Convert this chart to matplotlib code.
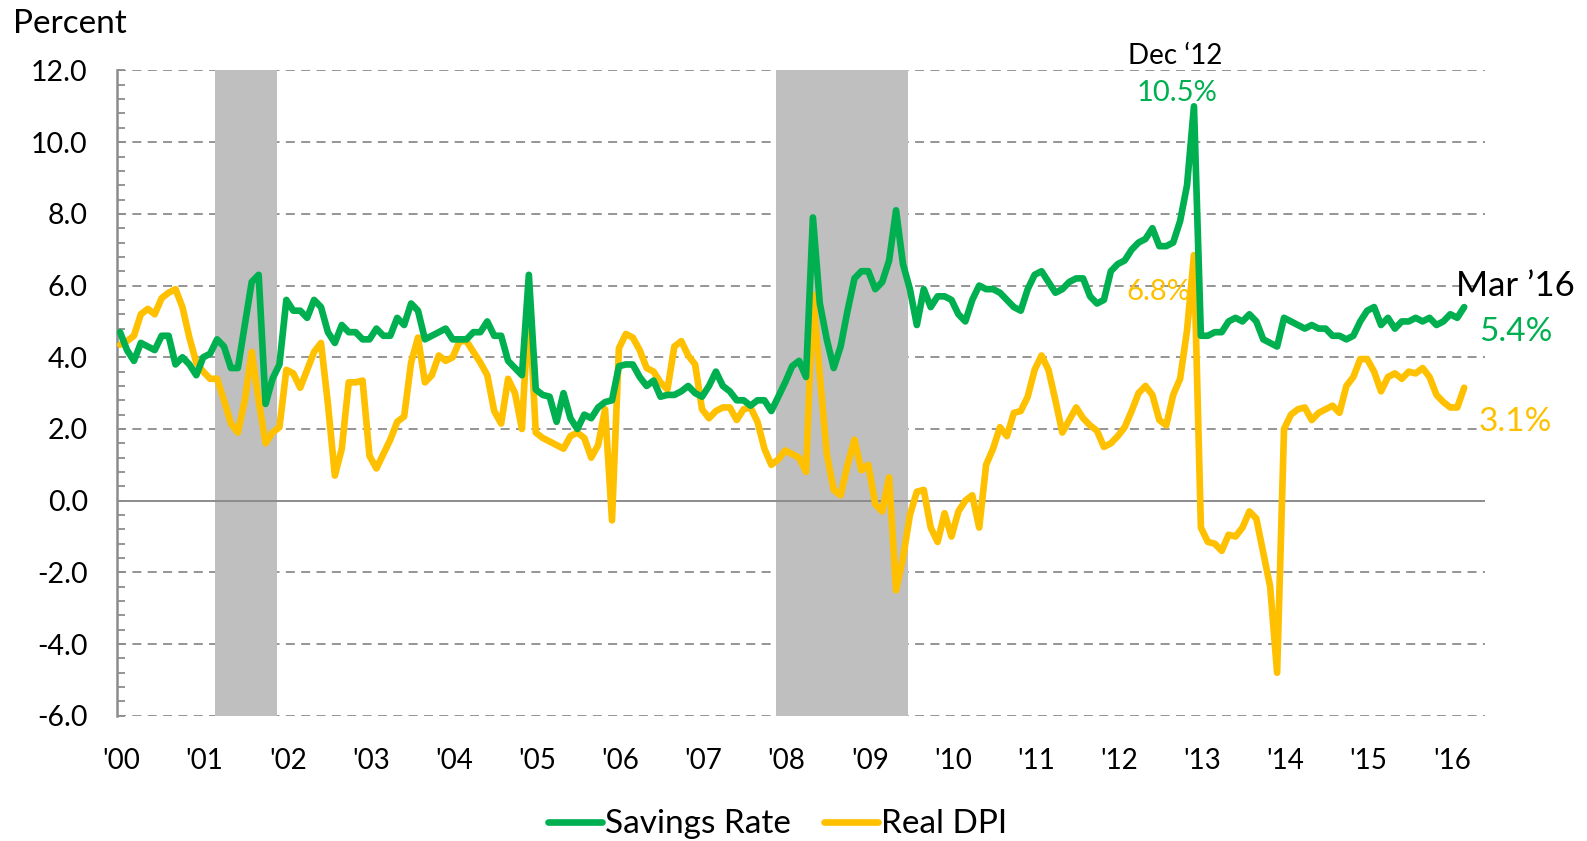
import numpy as np
import matplotlib
matplotlib.use("Agg")
import matplotlib.pyplot as plt
from matplotlib.ticker import MultipleLocator, FixedLocator

plt.rcParams["font.family"] = ["Lato", "DejaVu Sans"]

# ── data: monthly, Jan 2000 .. Mar 2016 ───────────────────────────────
savings_rate = [
    4.7, 4.2, 3.9, 4.4, 4.3, 4.2, 4.6, 4.6, 3.8, 4.0, 3.8, 3.5,      # 2000
    4.0, 4.1, 4.5, 4.3, 3.7, 3.7, 4.9, 6.1, 6.3, 2.7, 3.4, 3.8,      # 2001
    5.6, 5.3, 5.3, 5.1, 5.6, 5.4, 4.7, 4.4, 4.9, 4.7, 4.7, 4.5,      # 2002
    4.5, 4.8, 4.6, 4.6, 5.1, 4.9, 5.5, 5.3, 4.5, 4.6, 4.7, 4.8,      # 2003
    4.5, 4.5, 4.5, 4.7, 4.7, 5.0, 4.6, 4.6, 3.9, 3.7, 3.5, 6.3,      # 2004
    3.1, 2.95, 2.9, 2.2, 3.0, 2.3, 2.0, 2.4, 2.3, 2.6, 2.75, 2.8,    # 2005
    3.75, 3.8, 3.8, 3.45, 3.2, 3.35, 2.9, 2.95, 2.95, 3.05, 3.2, 3.0,  # 2006
    2.9, 3.2, 3.6, 3.2, 3.05, 2.8, 2.8, 2.65, 2.8, 2.8, 2.5, 2.9,   # 2007
    3.3, 3.75, 3.9, 3.45, 7.9, 5.5, 4.5, 3.7, 4.3, 5.3, 6.2, 6.4,   # 2008
    6.4, 5.9, 6.1, 6.7, 8.1, 6.6, 5.9, 4.9, 5.9, 5.4, 5.7, 5.7,     # 2009
    5.6, 5.2, 5.0, 5.6, 6.0, 5.9, 5.9, 5.8, 5.6, 5.4, 5.3, 5.9,     # 2010
    6.3, 6.4, 6.1, 5.8, 5.9, 6.1, 6.2, 6.2, 5.7, 5.5, 5.6, 6.4,     # 2011
    6.6, 6.7, 7.0, 7.2, 7.3, 7.6, 7.1, 7.1, 7.2, 7.8, 8.8, 11.0,    # 2012
    4.6, 4.6, 4.7, 4.7, 5.0, 5.1, 5.0, 5.2, 5.0, 4.5, 4.4, 4.3,     # 2013
    5.1, 5.0, 4.9, 4.8, 4.9, 4.8, 4.8, 4.6, 4.6, 4.5, 4.6, 5.0,     # 2014
    5.3, 5.4, 4.9, 5.1, 4.8, 5.0, 5.0, 5.1, 5.0, 5.1, 4.9, 5.0,     # 2015
    5.2, 5.1, 5.4,                                                  # 2016
]
real_dpi = [
    4.35, 4.45, 4.6, 5.2, 5.35, 5.2, 5.65, 5.8, 5.9, 5.4, 4.55, 3.85,    # 2000
    3.6, 3.4, 3.4, 2.8, 2.15, 1.9, 2.8, 4.15, 2.8, 1.6, 1.9, 2.05,       # 2001
    3.65, 3.55, 3.15, 3.65, 4.15, 4.4, 2.7, 0.7, 1.45, 3.3, 3.3, 3.35,   # 2002
    1.25, 0.9, 1.3, 1.7, 2.2, 2.35, 3.85, 4.55, 3.3, 3.5, 4.05, 3.9,     # 2003
    4.0, 4.45, 4.45, 4.15, 3.85, 3.5, 2.5, 2.15, 3.4, 3.0, 2.0, 5.6,     # 2004
    1.9, 1.75, 1.65, 1.55, 1.45, 1.8, 1.9, 1.75, 1.2, 1.55, 2.55, -0.55, # 2005
    4.25, 4.65, 4.55, 4.2, 3.7, 3.6, 3.3, 3.1, 4.3, 4.45, 4.05, 3.8,     # 2006
    2.55, 2.3, 2.5, 2.6, 2.6, 2.25, 2.55, 2.6, 2.2, 1.45, 1.0, 1.15,     # 2007
    1.4, 1.3, 1.2, 0.8, 5.75, 3.5, 1.3, 0.3, 0.15, 1.0, 1.7, 0.85,       # 2008
    1.0, -0.1, -0.3, 0.65, -2.5, -1.6, -0.4, 0.25, 0.3, -0.75, -1.15, -0.35,  # 2009
    -1.0, -0.3, 0.0, 0.15, -0.75, 1.0, 1.45, 2.05, 1.8, 2.45, 2.5, 2.9,  # 2010
    3.65, 4.05, 3.65, 2.8, 1.9, 2.25, 2.6, 2.3, 2.1, 1.95, 1.5, 1.6,     # 2011
    1.8, 2.05, 2.5, 3.0, 3.2, 2.95, 2.25, 2.1, 2.95, 3.4, 4.75, 6.85,    # 2012
    -0.75, -1.15, -1.2, -1.4, -0.95, -1.0, -0.75, -0.3, -0.5, -1.45, -2.4, -4.8,  # 2013
    2.0, 2.4, 2.55, 2.6, 2.25, 2.45, 2.55, 2.65, 2.45, 3.2, 3.45, 3.95,  # 2014
    3.95, 3.6, 3.05, 3.45, 3.55, 3.4, 3.6, 3.55, 3.7, 3.45, 2.95, 2.75,  # 2015
    2.6, 2.6, 3.15,                                                      # 2016
]
years = list(range(2000, 2017))
year_labels = [f"'{y % 100:02d}" for y in years]
recessions = [((2001, 3), (2001, 11)), ((2007, 12), (2009, 6))]
y_ticks = [-6, -4, -2, 0, 2, 4, 6, 8, 10, 12]

GREEN = "#00B050"
GOLD = "#FFC000"
GREY = "#8C8C8C"
SHADE = "#BFBFBF"


def month_idx(y, m):
    return (y - 2000) * 12 + (m - 1)


x = np.arange(len(savings_rate))

fig = plt.figure(figsize=(15.87, 8.41), dpi=100)
ax = fig.add_axes([0.0737, 0.1489, 0.862, 0.7673])

# ── grid, shading, zero line ─────────────────────────────────────────
for v in y_ticks:
    if v == 0:
        ax.axhline(0, color=GREY, lw=1.4, zorder=3)
    else:
        ax.axhline(v, color=GREY, lw=1.3, ls=(0, (5, 3.5)), zorder=1)

for (s, e) in recessions:
    ax.axvspan(month_idx(*s) - 0.3, month_idx(*e) + 0.7, color=SHADE, lw=0, zorder=2)

# ── series ───────────────────────────────────────────────────────────
ax.plot(x, savings_rate, color=GREEN, lw=4.8, label="Savings Rate", zorder=5,
        solid_joinstyle="round", solid_capstyle="round")
ax.plot(x, real_dpi, color=GOLD, lw=4.8, label="Real DPI", zorder=4,
        solid_joinstyle="round", solid_capstyle="round")

# ── axes ─────────────────────────────────────────────────────────────
ax.set_xlim(-0.45, 197)
ax.set_ylim(-6, 12)
for sp in ["top", "right", "bottom"]:
    ax.spines[sp].set_visible(False)
ax.spines["left"].set_color(GREY)
ax.spines["left"].set_linewidth(1.8)

ax.yaxis.set_major_locator(FixedLocator(y_ticks))
ax.yaxis.set_minor_locator(MultipleLocator(0.4))
ax.set_yticklabels([f"{v:.1f}" for v in y_ticks])
ax.tick_params(axis="y", which="both", direction="in", length=5.5, width=1.3,
               color=GREY, labelsize=20.5, pad=21)

ax.xaxis.set_major_locator(FixedLocator([month_idx(y, 1) + 0.2 for y in years]))
ax.set_xticklabels(year_labels)
ax.tick_params(axis="x", length=0, labelsize=20, pad=23)

# ── annotations ──────────────────────────────────────────────────────
peak = int(np.argmax(savings_rate))
last = len(savings_rate) - 1
ax.text(peak - 2.7, 12.4, "Dec \u201812", ha="center", va="center", fontsize=20, color="black")
ax.text(peak - 2.5, 11.37, "10.5%", ha="center", va="center", fontsize=21, color=GREEN)
ax.text(peak - 5.1, 5.82, "6.8%", ha="center", va="center", fontsize=21, color=GOLD)
ax.text(last + 7.4, 5.98, "Mar \u201916", ha="center", va="center", fontsize=25, color="black")
ax.text(last + 7.4, 4.7, "5.4%", ha="center", va="center", fontsize=24, color=GREEN)
ax.text(last + 7.4, 2.19, "3.1%", ha="center", va="center", fontsize=24, color=GOLD)

fig.text(0.008, 0.971, "Percent", ha="left", va="center", fontsize=24)

fig.legend(loc="center", bbox_to_anchor=(0.49, 0.02), ncol=2, frameon=False,
           fontsize=24, handlelength=1.6, handletextpad=0.1, columnspacing=1.0)

fig.savefig("out.png", dpi=100)
